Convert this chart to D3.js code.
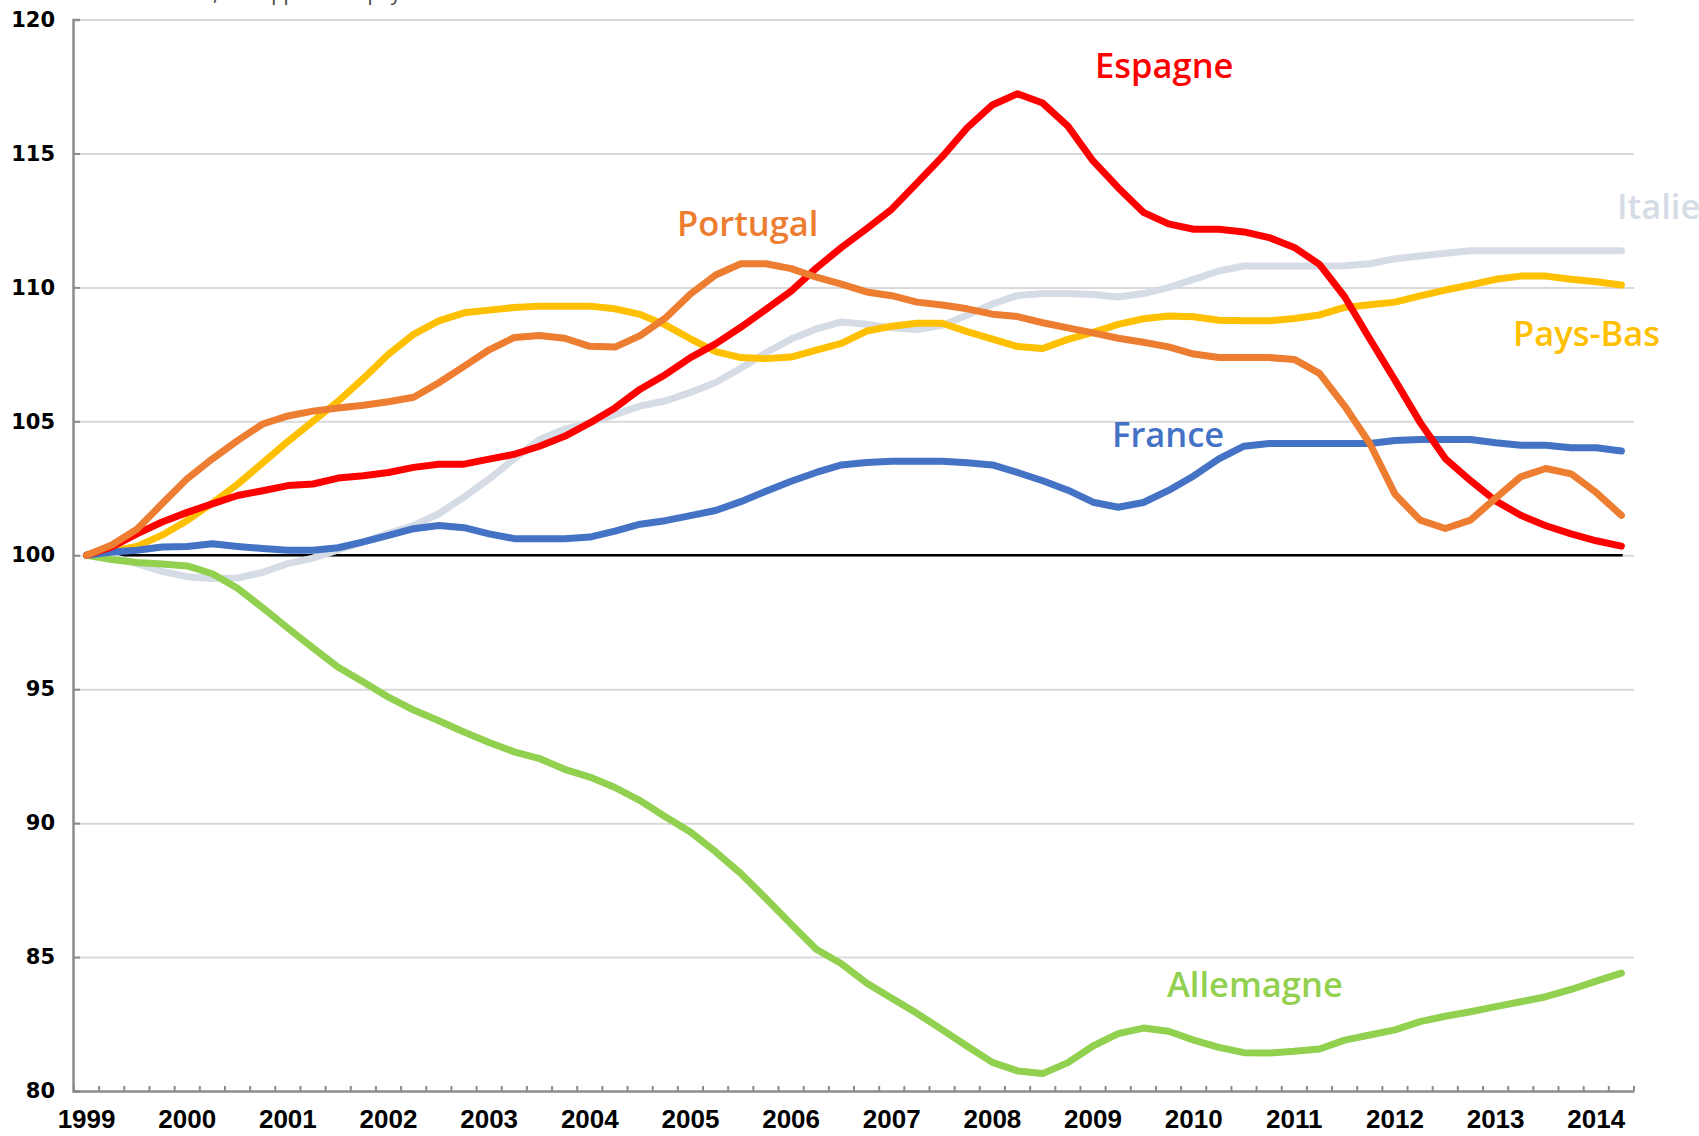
<!DOCTYPE html>
<html lang="fr">
<head>
  <meta charset="UTF-8">
  <title>Coûts salariaux unitaires</title>
  <script src="https://d3js.org/d3.v7.min.js"></script>
  <style>
    body { margin: 0; background: #fff; }
    svg { display: block; }
  </style>
</head>
<body>
  <svg id="chart"></svg>
  <script>
    const years = ['1999', '2000', '2001', '2002', '2003', '2004', '2005', '2006',
      '2007', '2008', '2009', '2010', '2011', '2012', '2013', '2014'];
    const quarters = ['T1', 'T2', 'T3', 'T4'];
    // 1999T1 -> 2014T2
    const categories = years.flatMap(y => quarters.map(q => y + q)).slice(0, 62);
    const yTicks = [80, 85, 90, 95, 100, 105, 110, 115, 120];

    const espagne = [100, 100.31, 100.8, 101.24, 101.6, 101.92, 102.23, 102.41, 102.6, 102.66,
      102.88, 102.97, 103.09, 103.28, 103.4, 103.4, 103.59, 103.77, 104.07, 104.44, 104.94,
      105.5, 106.2, 106.74, 107.38, 107.89, 108.51, 109.18, 109.86, 110.72, 111.49, 112.19,
      112.92, 113.89, 114.87, 115.96, 116.81, 117.23, 116.88, 116.02, 114.72, 113.72, 112.8,
      112.37, 112.17, 112.17, 112.07, 111.86, 111.49, 110.86, 109.65, 108.07, 106.54, 104.96,
      103.61, 102.79, 102.03, 101.49, 101.1, 100.8, 100.54, 100.34];
    const portugal = [100, 100.38, 100.97, 101.92, 102.86, 103.6, 104.28, 104.9, 105.2, 105.38,
      105.5, 105.6, 105.73, 105.9, 106.44, 107.05, 107.67, 108.13, 108.2, 108.1, 107.8,
      107.77, 108.2, 108.85, 109.75, 110.46, 110.88, 110.88, 110.7, 110.38, 110.12, 109.83,
      109.69, 109.45, 109.34, 109.2, 109.0, 108.91, 108.68, 108.49, 108.3, 108.1, 107.95,
      107.78, 107.51, 107.38, 107.38, 107.38, 107.31, 106.79, 105.57, 104.17, 102.28, 101.31,
      101.0, 101.31, 102.13, 102.93, 103.24, 103.04, 102.34, 101.49];
    const italie = [100, 99.94, 99.69, 99.4, 99.2, 99.13, 99.15, 99.36, 99.69, 99.89,
      100.2, 100.5, 100.82, 101.11, 101.55, 102.17, 102.85, 103.6, 104.32, 104.7, 104.95,
      105.25, 105.57, 105.76, 106.08, 106.45, 106.98, 107.56, 108.07, 108.45, 108.71, 108.62,
      108.49, 108.43, 108.58, 108.97, 109.38, 109.7, 109.77, 109.77, 109.73, 109.64, 109.77,
      109.99, 110.3, 110.61, 110.8, 110.8, 110.8, 110.8, 110.81, 110.88, 111.07, 111.17,
      111.27, 111.37, 111.37, 111.37, 111.37, 111.37, 111.37, 111.37];
    const paysBas = [100, 100.15, 100.33, 100.75, 101.3, 101.95, 102.65, 103.45, 104.25, 105.0,
      105.75, 106.6, 107.5, 108.25, 108.75, 109.05, 109.15, 109.25, 109.3, 109.3, 109.3,
      109.2, 108.99, 108.6, 108.08, 107.6, 107.38, 107.34, 107.4, 107.66, 107.91, 108.37,
      108.55, 108.66, 108.66, 108.35, 108.07, 107.79, 107.72, 108.06, 108.32, 108.62, 108.83,
      108.93, 108.9, 108.77, 108.75, 108.75, 108.84, 108.97, 109.25, 109.35, 109.45, 109.68,
      109.9, 110.09, 110.3, 110.42, 110.42, 110.3, 110.21, 110.09];
    const france = [100, 100.12, 100.19, 100.31, 100.33, 100.43, 100.33, 100.25, 100.19, 100.19,
      100.28, 100.5, 100.74, 100.99, 101.11, 101.03, 100.8, 100.62, 100.62, 100.62, 100.68,
      100.9, 101.16, 101.29, 101.48, 101.67, 102.0, 102.39, 102.76, 103.09, 103.37, 103.46,
      103.51, 103.51, 103.51, 103.45, 103.37, 103.09, 102.78, 102.43, 101.98, 101.79, 101.97,
      102.42, 102.96, 103.6, 104.07, 104.17, 104.17, 104.17, 104.17, 104.17, 104.28, 104.32,
      104.32, 104.32, 104.2, 104.11, 104.11, 104.01, 104.01, 103.89];
    const allemagne = [100, 99.84, 99.73, 99.67, 99.6, 99.31, 98.77, 98.04, 97.28, 96.54,
      95.82, 95.27, 94.7, 94.22, 93.82, 93.4, 93.01, 92.66, 92.41, 92.01, 91.72,
      91.33, 90.84, 90.24, 89.67, 88.93, 88.12, 87.19, 86.23, 85.29, 84.75, 84.03,
      83.46, 82.9, 82.29, 81.67, 81.07, 80.75, 80.65, 81.06, 81.68, 82.14, 82.35,
      82.23, 81.9, 81.63, 81.43, 81.42, 81.48, 81.57, 81.9, 82.09, 82.28, 82.59,
      82.79, 82.96, 83.15, 83.33, 83.52, 83.79, 84.1, 84.4];
    const base = categories.map(() => 100);

    // drawing order: first = bottom
    const series = [
      { name: 'Italie', values: italie, color: '#d6dce5', label: [1617, 219] },
      { name: 'Allemagne', values: allemagne, color: '#92d050', label: [1167, 997] },
      { name: 'Pays-Bas', values: paysBas, color: '#ffc000', label: [1513, 346] },
      { name: 'France', values: france, color: '#4472c4', label: [1112, 447] },
      { name: 'Espagne', values: espagne, color: '#ff0000', label: [1095, 78] },
      { name: 'Portugal', values: portugal, color: '#ed7d31', label: [677, 236] }
    ];

    const W = 1699, H = 1136;
    const margin = { top: 19.5, right: 65, bottom: 45, left: 74 };

    const svg = d3.select('#chart').attr('width', W).attr('height', H);

    const x = d3.scaleBand()
      .domain(categories)
      .range([margin.left, W - margin.right])
      .padding(0);
    const y = d3.scaleLinear()
      .domain([80, 120])
      .range([H - margin.bottom, margin.top]);
    const cx = d => x(d) + x.bandwidth() / 2;

    // gridlines
    svg.append('g')
      .attr('transform', `translate(${margin.left - 1}, 0)`)
      .call(d3.axisLeft(y).tickValues(yTicks.slice(1)).tickSize(-(W - margin.right - margin.left + 1)).tickFormat(''))
      .call(g => g.select('.domain').remove())
      .call(g => g.selectAll('line').attr('stroke', '#d9d9d9').attr('stroke-width', 2));

    // subtitle, cut off by the top edge as in the original
    const title = svg.append('text')
      .attr('y', 0)
      .attr('font-family', 'Open Sans, sans-serif')
      .attr('font-size', 20)
      .attr('fill', '#404040')
      .text('Base 100 en 1999, en rapport aux pays de la zone euro');
    const commaX = title.node().getSubStringLength(0, 16);
    title.attr('x', 213 - commaX);

    // y axis
    svg.append('g')
      .attr('transform', `translate(${margin.left - 1}, 0)`)
      .call(d3.axisLeft(y).tickValues(yTicks).tickSize(-7).tickPadding(18))
      .call(g => g.select('.domain').attr('stroke', '#8c8c8c').attr('stroke-width', 2.5))
      .call(g => g.selectAll('.tick line').attr('stroke', '#8c8c8c').attr('stroke-width', 2))
      .call(g => g.selectAll('.tick text')
        .attr('font-family', 'DejaVu Sans, sans-serif')
        .attr('font-weight', 'bold')
        .attr('font-size', 21)
        .attr('fill', '#000'));

    // x axis
    const xAxis = svg.append('g')
      .attr('transform', `translate(0, ${y(80)})`)
      .call(d3.axisBottom(x)
        .tickValues(categories.filter(c => c.endsWith('T1')))
        .tickSize(0)
        .tickPadding(19)
        .tickFormat(c => c.slice(0, 4)))
      .call(g => g.select('.domain').attr('stroke', '#8c8c8c').attr('stroke-width', 2.5))
      .call(g => g.selectAll('.tick text')
        .attr('font-family', 'Liberation Sans Narrow, Arial Narrow, sans-serif')
        .attr('font-weight', 'bold')
        .attr('font-size', 26)
        .attr('fill', '#000'));
    xAxis.selectAll('.qtick')
      .data(d3.range(categories.length + 1))
      .enter()
      .append('line')
      .attr('class', 'qtick')
      .attr('x1', i => margin.left + i * x.step())
      .attr('x2', i => margin.left + i * x.step())
      .attr('y1', 0)
      .attr('y2', -5)
      .attr('stroke', '#8c8c8c')
      .attr('stroke-width', 2);

    const line = d3.line()
      .x((d, i) => cx(categories[i]))
      .y(d => y(d));

    // 100 reference line
    svg.append('path')
      .datum(base)
      .attr('d', line)
      .attr('fill', 'none')
      .attr('stroke', '#000')
      .attr('stroke-width', 2.5)
      .attr('stroke-linecap', 'square');

    svg.append('g')
      .selectAll('path')
      .data(series)
      .enter()
      .append('path')
      .attr('d', d => line(d.values))
      .attr('fill', 'none')
      .attr('stroke', d => d.color)
      .attr('stroke-width', 7)
      .attr('stroke-linejoin', 'round')
      .attr('stroke-linecap', 'round');

    svg.append('g')
      .selectAll('text')
      .data(series)
      .enter()
      .append('text')
      .attr('x', d => d.label[0])
      .attr('y', d => d.label[1])
      .attr('font-family', 'Open Sans, sans-serif')
      .attr('font-weight', 600)
      .attr('font-size', 34.5)
      .attr('fill', d => d.color)
      .text(d => d.name);
  </script>
</body>
</html>
